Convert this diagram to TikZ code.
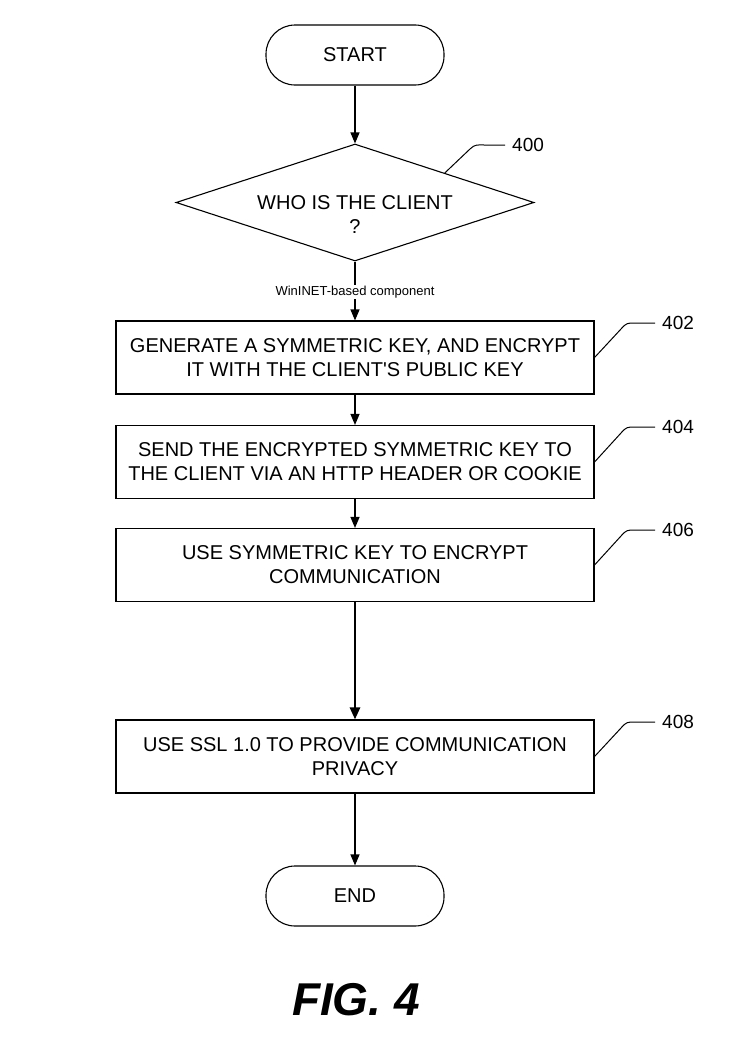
\documentclass[tikz,border=0pt]{standalone}
\usepackage{fontspec}
\setmainfont{Liberation Sans}[Ligatures=TeXOff]
\usetikzlibrary{shapes.geometric,arrows.meta}
\begin{document}
\begin{tikzpicture}[x=1pt,y=-1pt,
  box/.style={draw,line width=1.1pt,minimum width=478pt,minimum height=73pt,align=center,inner sep=0pt,font=\fontsize{20}{24}\selectfont},
  term/.style={draw,line width=1.1pt,rounded corners=29pt,minimum width=178pt,minimum height=60pt,inner sep=0pt,font=\fontsize{20}{24}\selectfont},
  dia/.style={draw,diamond,line width=1.1pt,minimum width=358pt,minimum height=117pt,inner sep=0pt,aspect=3},
  flow/.style={line width=1.1pt,-{Triangle[length=11pt,width=9pt]}},
  thickflow/.style={line width=2.6pt,-{Triangle[length=12pt,width=10pt]}},
  lead/.style={line width=1pt},
  ref/.style={anchor=west,inner sep=0pt,font=\fontsize{19}{22}\selectfont},
  small/.style={inner sep=1pt,fill=white,font=\fontsize{13}{15}\selectfont}]
\useasboundingbox (0,0) rectangle (729,1044);

\node[term] (start) at (355,55) {START};
\node[dia] (d400) at (355,202.5) {};
\node[align=center,font=\fontsize{20}{24}\selectfont,inner sep=0pt] (q400) at (355,215) {WHO IS THE CLIENT\\?};
\node[box] (b402) at (355,357.5) {GENERATE A SYMMETRIC KEY, AND ENCRYPT\\IT WITH THE CLIENT'S PUBLIC KEY};
\node[box] (b404) at (355,462) {SEND THE ENCRYPTED SYMMETRIC KEY TO\\THE CLIENT VIA AN HTTP HEADER OR COOKIE};
\node[box] (b406) at (355,565) {USE SYMMETRIC KEY TO ENCRYPT\\COMMUNICATION};
\node[box] (b408) at (355,756.5) {USE SSL 1.0 TO PROVIDE COMMUNICATION\\PRIVACY};
\node[term] (end) at (355,896) {END};

\draw[flow] (start.south) -- (d400.north);
\draw[flow] (d400.south) -- (b402.north) node[small,pos=0.52] (win) {WinINET-based component};
\draw[flow] (b402.south) -- (b404.north);
\draw[flow] (b404.south) -- (b406.north);
\draw[thickflow] (b406.south) -- (b408.north);
\draw[flow] (b408.south) -- (end.north);

% reference numerals
\node[ref] (r400) at (512,145) {400};
\coordinate (c400) at (505,145);
\draw[lead] (d400.north east) -- (470,149) .. controls (475,144) and (478,145) .. (484,145) -- (c400);

\foreach \n/\t in {402/323, 404/427, 406/530, 408/722}{
  \node[ref] (r\n) at (662,\t) {\n};
  \coordinate (c\n) at (655,\t);
  \draw[lead] (b\n.east) -- (621,\t+6) .. controls (626,\t) and (628,\t) .. (634,\t) -- (c\n);
}

\node[font=\fontsize{46}{50}\selectfont\bfseries\itshape,inner sep=0pt] (fig) at (356,1000) {FIG. 4};
\end{tikzpicture}
\end{document}
